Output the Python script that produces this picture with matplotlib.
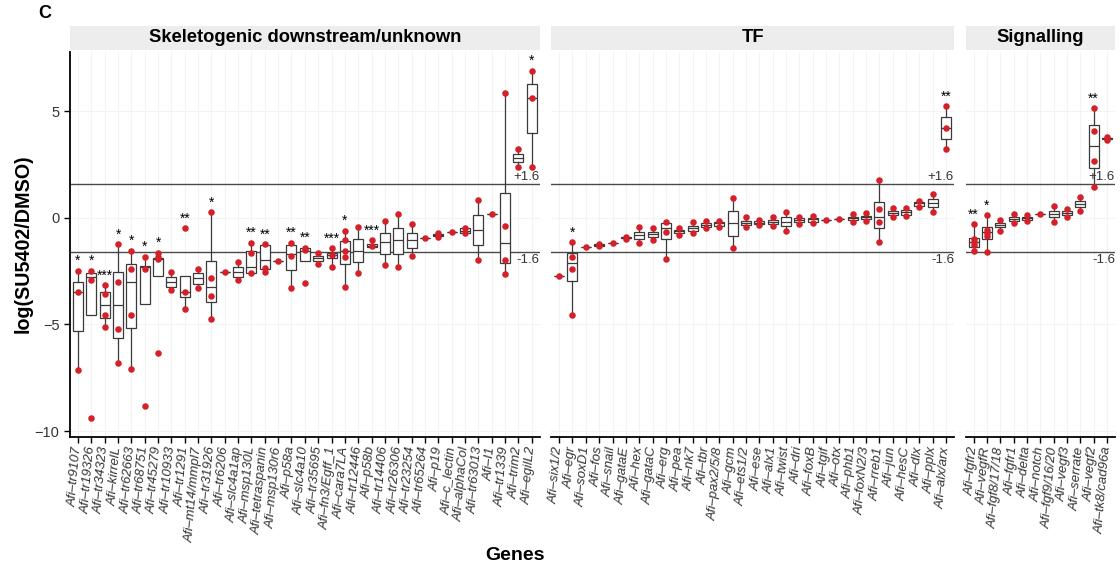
import matplotlib.pyplot as plt
from matplotlib.patches import Rectangle

plt.rcParams['font.family'] = ['Liberation Sans', 'DejaVu Sans']
plt.rcParams['axes.unicode_minus'] = False

# ---- Skeletogenic downstream/unknown ----
skel_genes = ["tr9107", "tr19326", "tr34323", "kirrelL", "tr62663", "tr68751", "tr45279",
              "tr10933", "tr1291", "mt14/mmpl7", "tr31926", "tr6206", "slc4a1ap", "msp130L",
              "tetraspanin", "msp130r6", "p58a", "slc4a10", "tr35695", "fn3/Egff_1", "cara7LA",
              "tr12446", "p58b", "tr14406", "tr26306", "tr23254", "tr65264", "p19", "c_lectin",
              "alphaCol", "tr63013", "I1", "tr1339", "trim2", "egilL2"]
# lower whisker, q1, median, q3, upper whisker
skel_box = [(-7.14, -5.31, -3.5, -3.0, -2.48), (-4.54, -4.54, -2.76, -2.57, -2.48),
            (-5.14, -4.70, -4.07, -3.47, -3.16), (-6.83, -5.62, -4.11, -2.56, -1.23),
            (-7.09, -5.19, -3.0, -2.17, -1.55), (-4.06, -4.06, -2.32, -2.25, -1.83),
            (-2.72, -2.72, -1.95, -1.9, -1.64), (-3.39, -3.23, -3.0, -2.8, -2.56),
            (-4.28, -3.7, -3.5, -2.72, -2.72), (-3.31, -3.13, -2.84, -2.61, -2.39),
            (-4.75, -3.97, -3.23, -2.03, 0.25), (-2.56, -2.56, -2.56, -2.56, -2.56),
            (-2.92, -2.77, -2.53, -2.33, -2.06), (-2.61, -2.61, -2.33, -1.55, -1.17),
            (-2.53, -2.41, -1.98, -1.28, -1.23), (-2.02, -2.02, -2.02, -2.02, -2.02),
            (-3.31, -2.45, -1.70, -1.28, -1.17), (-2.02, -2.02, -1.55, -1.42, -1.38),
            (-2.17, -2.02, -1.9, -1.8, -1.64), (-2.3, -1.9, -1.75, -1.67, -1.44),
            (-3.23, -2.17, -1.55, -1.08, -0.61), (-2.61, -2.06, -1.55, -0.98, -0.42),
            (-1.36, -1.36, -1.31, -1.23, -1.05), (-2.22, -1.70, -1.16, -0.70, -0.16),
            (-2.33, -1.70, -1.05, -0.47, 0.17), (-1.8, -1.44, -1.05, -0.70, -0.31),
            (-0.94, -0.94, -0.94, -0.94, -0.94), (-0.89, -0.86, -0.81, -0.77, -0.73),
            (-0.69, -0.69, -0.69, -0.69, -0.69), (-0.73, -0.70, -0.61, -0.5, -0.5),
            (-1.98, -1.28, -0.58, 0.125, 0.83), (0.17, 0.17, 0.17, 0.17, 0.17),
            (-2.64, -2.14, -1.17, 1.14, 5.83), (2.36, 2.61, 2.78, 2.97, 3.22),
            (2.36, 3.98, 5.59, 6.27, 6.89)]
skel_pts = [[-2.48, -3.5, -7.14], [-2.48, -2.92, -9.4], [-3.16, -3.58, -4.56, -5.14],
            [-1.23, -3.0, -5.22, -6.83], [-1.55, -2.39, -4.56, -7.09], [-1.83, -2.39, -8.81],
            [-1.64, -1.85, -1.95, -6.36], [-2.56, -3.39], [-0.5, -3.5, -4.28], [-2.39, -3.31],
            [0.25, -2.83, -3.69, -4.75], [-2.56], [-2.06, -2.92], [-1.17, -1.67, -2.61],
            [-1.23, -2.38, -2.53], [-2.02], [-1.17, -1.78, -3.31], [-1.4, -1.52, -3.08],
            [-1.64, -2.17], [-1.44, -1.75, -2.3], [-0.61, -1.05, -1.55, -1.83, -3.23],
            [-0.42, -2.61], [-1.05, -1.31], [-0.16, -2.22], [0.17, -2.33], [-0.31, -1.8],
            [-0.94], [-0.73, -0.89], [-0.69], [-0.5, -0.73], [0.83, -1.98], [0.17],
            [5.83, -0.39, -1.98, -2.64], [3.22, 2.36], [6.89, 5.59, 2.36]]
skel_stars = ["*", "*", "***", "*", "*", "*", "*", "", "**", "", "*", "", "", "**", "**", "",
              "**", "**", "", "***", "*", "", "***", "", "", "", "", "", "", "", "", "", "",
              "", "*"]

# ---- TF ----
tf_genes = ["six1/2", "egr", "soxD1", "fos", "snail", "gataE", "hex", "gataC", "erg", "pea",
            "nk7", "tbr", "pax2/5/8", "gcm", "ets1/2", "ese", "alx1", "twist", "dri", "foxB",
            "tgif", "otx", "phb1", "foxN2/3", "rreb1", "jun", "hesC", "dlx", "pplx", "alx/arx"]
tf_box = [(-2.73, -2.73, -2.73, -2.73, -2.73), (-4.58, -2.95, -2.11, -1.67, -1.14),
          (-1.39, -1.39, -1.39, -1.39, -1.39), (-1.33, -1.31, -1.28, -1.25, -1.23),
          (-1.17, -1.17, -1.17, -1.17, -1.17), (-1.0, -0.97, -0.94, -0.91, -0.89),
          (-1.17, -1.02, -0.81, -0.66, -0.42), (-1.05, -0.92, -0.77, -0.66, -0.47),
          (-1.95, -1.0, -0.5, -0.27, -0.19), (-0.81, -0.73, -0.64, -0.56, -0.5),
          (-0.73, -0.61, -0.47, -0.38, -0.19), (-0.5, -0.42, -0.34, -0.27, -0.16),
          (-0.45, -0.39, -0.27, -0.19, -0.16), (-1.41, -0.84, -0.27, 0.33, 0.91),
          (-0.42, -0.34, -0.23, -0.13, 0.02), (-0.36, -0.31, -0.23, -0.16, -0.11),
          (-0.39, -0.31, -0.2, -0.11, 0.02), (-0.61, -0.39, -0.19, 0.05, 0.28),
          (-0.3, -0.22, -0.11, -0.03, 0.05), (-0.27, -0.19, -0.08, 0.0, 0.08),
          (-0.09, -0.09, -0.09, -0.09, -0.09), (-0.08, -0.08, -0.08, -0.08, -0.08),
          (-0.2, -0.11, -0.03, 0.05, 0.17), (-0.16, -0.06, 0.02, 0.09, 0.2),
          (-1.16, -0.5, 0.05, 0.72, 1.77), (0.02, 0.125, 0.23, 0.33, 0.44),
          (0.08, 0.125, 0.25, 0.36, 0.47), (0.52, 0.56, 0.67, 0.75, 0.8),
          (0.28, 0.48, 0.67, 0.875, 1.11), (3.22, 3.69, 4.19, 4.7, 5.23)]
tf_pts = [[-2.73], [-1.14, -1.86, -2.41, -4.58], [-1.39], [-1.23, -1.33], [-1.17],
          [-0.89, -1.0], [-0.42, -1.17], [-0.47, -1.05], [-0.19, -0.66, -1.95], [-0.5, -0.81],
          [-0.19, -0.73], [-0.16, -0.5], [-0.16, -0.45], [0.91, -1.41], [0.02, -0.42],
          [-0.11, -0.36], [0.02, -0.39], [0.28, -0.61], [0.05, -0.3], [0.08, -0.27], [-0.09],
          [-0.08], [0.17, -0.2], [0.2, -0.16], [1.77, 0.39, -0.22, -1.16], [0.44, 0.02],
          [0.47, 0.08], [0.8, 0.52], [1.11, 0.28], [5.23, 4.19, 3.22]]
tf_stars = ["", "*"] + [""] * 27 + ["**"]

# ---- Signalling ----
sig_genes = ["fgfr2", "vegfR", "fgf8/17/18", "fgfr1", "delta", "notch", "fgf9/16/20", "vegf3",
             "serrate", "vegf2", "tk8/cad96a"]
sig_box = [(-1.55, -1.36, -1.16, -0.94, -0.3), (-1.62, -1.02, -0.69, -0.45, 0.125),
           (-0.61, -0.45, -0.36, -0.27, -0.11), (-0.27, -0.16, -0.06, 0.02, 0.16),
           (-0.16, -0.11, -0.03, 0.05, 0.125), (0.17, 0.17, 0.17, 0.17, 0.17),
           (-0.19, 0.02, 0.17, 0.33, 0.55), (0.05, 0.125, 0.23, 0.33, 0.39),
           (0.30, 0.48, 0.64, 0.8, 0.98), (1.45, 2.34, 3.375, 4.34, 5.13),
           (3.65, 3.68, 3.72, 3.76, 3.8)]
sig_pts = [[-0.3, -1.02, -1.16, -1.28, -1.55], [0.125, -0.58, -0.70, -0.86, -1.62],
           [-0.11, -0.61], [0.16, -0.27], [0.125, -0.16], [0.17], [0.55, -0.19], [0.39, 0.05],
           [0.98, 0.30], [5.13, 4.08, 2.67, 1.45], [3.8, 3.65]]
sig_stars = ["**", "*"] + [""] * 7 + ["**", ""]

panels = [("Skeletogenic downstream/unknown", skel_genes, skel_box, skel_pts, skel_stars),
          ("TF", tf_genes, tf_box, tf_pts, tf_stars),
          ("Signalling", sig_genes, sig_box, sig_pts, sig_stars)]

W, H = 1120, 573
fig = plt.figure(figsize=(W / 100, H / 100), dpi=100)

# panel area in pixels
left, right, top, bottom = 70, 1115, 52, 437
gap = 11.5
units = [len(p[1]) + 0.2 for p in panels]
scale = (right - left - 2 * gap) / sum(units)

box_col = '#3a3a3a'
x0 = left
for i, (title, genes, box, pts, stars) in enumerate(panels):
    n = len(genes)
    w = units[i] * scale
    ax = fig.add_axes([x0 / W, 1 - bottom / H, w / W, (bottom - top) / H])

    stats = [dict(whislo=b[0], q1=b[1], med=b[2], q3=b[3], whishi=b[4], fliers=[]) for b in box]
    ax.bxp(stats, positions=range(1, n + 1), widths=0.75, showcaps=False, showfliers=False,
           patch_artist=True,
           boxprops=dict(facecolor='white', edgecolor=box_col, linewidth=0.9),
           medianprops=dict(color=box_col, linewidth=0.9),
           whiskerprops=dict(color=box_col, linewidth=0.9))

    for j, p in enumerate(pts):
        ax.scatter([j + 1] * len(p), p, s=22, color='#d42028', linewidths=0, zorder=4)
        if stars[j]:
            ax.text(j + 1, max(max(p), box[j][4]) + 0.12, stars[j], ha='center', va='bottom',
                    fontsize=10, color='black')

    ax.axhline(1.6, color='#4a4a4a', lw=1.0, zorder=1)
    ax.axhline(-1.6, color='#4a4a4a', lw=1.0, zorder=1)
    ax.text(n + 0.6, 1.65, '+1.6', ha='right', va='bottom', fontsize=9.5, color='#333333')
    ax.text(n + 0.6, -1.7, '-1.6', ha='right', va='top', fontsize=9.5, color='#333333')

    ax.set_xlim(0.4, n + 0.6)
    ax.set_ylim(-10.28, 7.77)
    ax.set_xticks(range(1, n + 1))
    ax.set_xticklabels(['Afi\u2013' + g for g in genes], rotation=85, ha='right', va='center',
                       rotation_mode='anchor', fontstyle='italic', fontsize=9.5, color='#333333')
    ax.tick_params(axis='x', length=4, width=1, color='black', pad=3)
    ax.set_yticks([-10, -5, 0, 5])
    ax.grid(color='#f3f3f3', lw=0.8)
    ax.set_axisbelow(True)

    for s in ['top', 'right']:
        ax.spines[s].set_visible(False)
    ax.spines['bottom'].set_color('black')
    ax.spines['bottom'].set_linewidth(1.3)
    if i == 0:
        ax.spines['left'].set_color('black')
        ax.spines['left'].set_linewidth(1.3)
        ax.set_yticklabels(['\u221210', '\u22125', '0', '5'], fontsize=10.5, color='#333333')
        ax.tick_params(axis='y', length=4, width=1, color='black')
    else:
        ax.spines['left'].set_visible(False)
        ax.tick_params(axis='y', length=0, labelleft=False)

    # facet strip
    fig.add_artist(Rectangle((x0 / W, 1 - 50 / H), w / W, 24 / H, transform=fig.transFigure,
                             facecolor='#ededed', edgecolor='none'))
    fig.text((x0 + w / 2) / W, 1 - 38 / H, title, ha='center', va='center',
             fontsize=13.2, fontweight='bold')

    x0 += w + gap

fig.text(23 / W, 1 - 244 / H, 'log(SU5402/DMSO)', rotation=90, ha='center', va='center',
         fontsize=14.2, fontweight='bold')
fig.text(515 / W, 1 - 555 / H, 'Genes', ha='center', va='center', fontsize=14, fontweight='bold')
fig.text(45 / W, 1 - 14 / H, 'C', ha='center', va='center', fontsize=13, fontweight='bold')

fig.savefig('out.png', dpi=100)
